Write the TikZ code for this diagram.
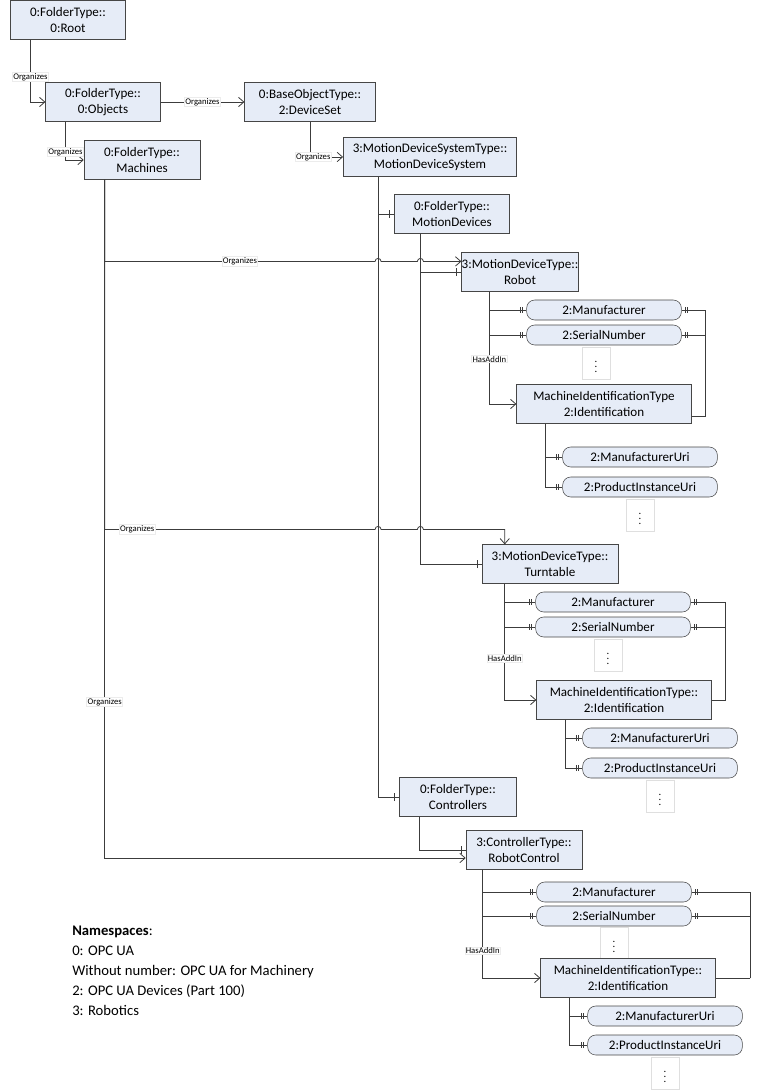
\documentclass[tikz,border=0pt]{standalone}
\usepackage{fontspec}
\setmainfont{Carlito}
\usepackage{tikz}
\usetikzlibrary{arrows.meta, decorations.markings}
\definecolor{boxfill}{RGB}{230,236,247}
\definecolor{boxline}{RGB}{70,70,70}
\definecolor{relline}{RGB}{60,60,60}

\tikzset{
  boxnode/.style={draw=boxline, fill=boxfill, inner sep=0pt, minimum height=29pt,
    align=center, font=\fontsize{9.8}{11.5}\selectfont},
  propnode/.style={draw=boxline, fill=boxfill, rounded corners=6pt, inner sep=0pt,
    minimum width=116pt, minimum height=15pt, font=\fontsize{9.8}{11}\selectfont},
  dotsbox/.style={draw=gray!25, fill=white, inner sep=0pt, minimum width=21pt, minimum height=24pt,
    font=\fontsize{8}{8}\selectfont},
  lbl/.style={fill=white, draw=gray!15, inner sep=0.6pt, font=\fontsize{6.5}{7}\selectfont},
  rel/.style={draw=relline, line width=0.6pt},
  orgarrow/.style={rel, -{Straight Barb[length=4pt,width=7pt]}},
  onebar/.style={rel, decoration={markings,
    mark=at position -3.5pt with {\draw[relline, line width=0.5pt] (0,-3pt) -- (0,3pt);}},
    postaction={decorate}},
  twobar/.style={rel, decoration={markings,
    mark=at position -3pt with {\draw[relline, line width=0.5pt] (0,-2.2pt) -- (0,2.2pt);},
    mark=at position -4.6pt with {\draw[relline, line width=0.5pt] (0,-2.2pt) -- (0,2.2pt);}},
    postaction={decorate}}
}

\begin{document}
\begin{tikzpicture}[x=0.75pt, y=-0.75pt]
    \useasboundingbox (0,0) rectangle (779,1091);
    % Ordner und Objekte
    \node[boxnode, minimum width=86pt] (root) at (68,20) {0:FolderType::\\0:Root};
    \node[boxnode, minimum width=86pt] (objects) at (103,102) {0:FolderType::\\0:Objects};
    \node[boxnode, minimum width=98pt] (deviceset) at (310,102) {0:BaseObjectType::\\2:DeviceSet};
    \node[boxnode, minimum width=87pt] (machines) at (142,160) {0:FolderType::\\Machines};
    \node[boxnode, minimum width=130pt] (mds) at (430,157) {3:MotionDeviceSystemType::\\MotionDeviceSystem};
    \node[boxnode, minimum width=86pt] (motiondev) at (452,214) {0:FolderType::\\MotionDevices};
    \node[boxnode, minimum width=87pt] (robot) at (520,272) {3:MotionDeviceType::\\Robot};
    \node[boxnode, minimum width=102pt] (turntable) at (550,564) {3:MotionDeviceType::\\Turntable};
    \node[boxnode, minimum width=88pt] (controllers) at (458,797) {0:FolderType::\\Controllers};
    \node[boxnode, minimum width=87pt] (robotctrl) at (524,850) {3:ControllerType::\\RobotControl};
    % Platzhalter
    \node[dotsbox] (dots1) at (596,363) {$\vdots$};
    \node[dotsbox] (dots1b) at (640,515) {$\vdots$};
    \node[dotsbox] (dots2) at (608,655) {$\vdots$};
    \node[dotsbox] (dots2b) at (660,796) {$\vdots$};
    \node[dotsbox] (dots3) at (614,943) {$\vdots$};
    \node[dotsbox] (dots3b) at (665,1073) {$\vdots$};
    % Eigenschaften
    \node[propnode] (manuf1) at (604,310) {2:Manufacturer};
    \node[propnode] (serial1) at (604,335) {2:SerialNumber};
    \node[boxnode, minimum width=131pt] (ident1) at (604,404) {MachineIdentificationType\\2:Identification};
    \node[propnode] (manuri1) at (640,457) {2:ManufacturerUri};
    \node[propnode] (prodinst1) at (640,487) {2:ProductInstanceUri};
    \node[propnode] (manuf2) at (613,602) {2:Manufacturer};
    \node[propnode] (serial2) at (613,627) {2:SerialNumber};
    \node[boxnode, minimum width=131pt] (ident2) at (624,700) {MachineIdentificationType::\\2:Identification};
    \node[propnode] (manuri2) at (660,738) {2:ManufacturerUri};
    \node[propnode] (prodinst2) at (660,768) {2:ProductInstanceUri};
    \node[propnode] (manuf3) at (614,892) {2:Manufacturer};
    \node[propnode] (serial3) at (614,916) {2:SerialNumber};
    \node[boxnode, minimum width=131pt] (ident3) at (628,978) {MachineIdentificationType::\\2:Identification};
    \node[propnode] (manuri3) at (665,1016) {2:ManufacturerUri};
    \node[propnode] (prodinst3) at (665,1045) {2:ProductInstanceUri};
    % Hilfspunkte
    \coordinate (mdsx) at ([xshift=26.25pt]mds.south west);
    \coordinate (mdvx) at ([xshift=19.5pt]motiondev.south west);
    \coordinate (mchx) at ([xshift=15.75pt]machines.south west);
    \coordinate (r1) at ([yshift=-6.75pt]robot.north west);
    \coordinate (t1) at ([xshift=17.25pt]turntable.north west);
    \coordinate (t1h) at ([yshift=11.25pt]t1);
    \coordinate (rbx) at ([xshift=21pt]robot.south west);
    \coordinate (tbx) at ([xshift=17.25pt]turntable.south west);
    \coordinate (rcx) at ([xshift=12.75pt]robotctrl.south west);
    \coordinate (i1x) at ([xshift=21.75pt]ident1.south west);
    \coordinate (i2x) at ([xshift=21.75pt]ident2.south west);
    \coordinate (i3x) at ([xshift=21.75pt]ident3.south west);
    \coordinate (rj1) at ([xshift=10.5pt, yshift=-9pt]ident1.east);
    \coordinate (rj2) at ([xshift=10.5pt]ident2.east);
    \coordinate (rj3) at ([xshift=26pt]ident3.east);
    % Organizes
    \draw[orgarrow] ([xshift=15pt]root.south west) |- node[lbl, pos=0.3]{Organizes} (objects);
    \draw[orgarrow] (objects) -- node[lbl]{Organizes} (deviceset);
    \draw[orgarrow] ([xshift=15pt]objects.south west) |- node[lbl, pos=0.4]{Organizes} (machines);
    \draw[orgarrow] (deviceset) |- node[lbl, pos=0.55]{Organizes} (mds);
    \draw[orgarrow] (mchx) |- node[lbl, pos=0.75]{Organizes} ([xshift=-2.25pt]mdsx |- r1)
        arc[start angle=180, end angle=0, radius=2.25pt] -- ([xshift=-2.25pt]mdvx |- r1)
        arc[start angle=180, end angle=0, radius=2.25pt] -- (r1);
    \draw[orgarrow] (mchx) |- node[lbl, pos=0.56]{Organizes} ([xshift=-2.25pt]mdsx |- t1h)
        arc[start angle=180, end angle=0, radius=2.25pt] -- ([xshift=-2.25pt]mdvx |- t1h)
        arc[start angle=180, end angle=0, radius=2.25pt] -- (t1h) -- (t1);
    \draw[orgarrow] (mchx) |- node[lbl, pos=0.385]{Organizes} ([yshift=-6pt]robotctrl.west);
    % Komponenten
    \draw[onebar] (mdsx) |- (motiondev);
    \draw[onebar] (mdsx) |- (controllers);
    \draw[onebar] (mdvx) |- (robot);
    \draw[onebar] (mdvx) |- (turntable);
    \draw[onebar] ([xshift=15pt]controllers.south west) |- (robotctrl);
    % Robot
    \draw[twobar] (rbx) |- (manuf1);
    \draw[twobar] (rbx) |- (serial1);
    \draw[orgarrow] (rbx) |- node[lbl, pos=0.3]{HasAddIn} (ident1);
    \draw[twobar] (rj1) |- (manuf1);
    \draw[twobar] (rj1) |- (serial1);
    \draw[rel] (rj1) -- (rj1 -| ident1.east);
    \draw[twobar] (i1x) |- (manuri1);
    \draw[twobar] (i1x) |- (prodinst1);
    % Turntable
    \draw[twobar] (tbx) |- (manuf2);
    \draw[twobar] (tbx) |- (serial2);
    \draw[orgarrow] (tbx) |- node[lbl, pos=0.32]{HasAddIn} (ident2);
    \draw[twobar] (rj2) |- (manuf2);
    \draw[twobar] (rj2) |- (serial2);
    \draw[rel] (rj2) -- (ident2.east);
    \draw[twobar] (i2x) |- (manuri2);
    \draw[twobar] (i2x) |- (prodinst2);
    % RobotControl
    \draw[twobar] (rcx) |- (manuf3);
    \draw[twobar] (rcx) |- (serial3);
    \draw[orgarrow] (rcx) |- node[lbl, pos=0.375]{HasAddIn} (ident3);
    \draw[twobar] (rj3) |- (manuf3);
    \draw[twobar] (rj3) |- (serial3);
    \draw[rel] (rj3) -- (ident3.east);
    \draw[twobar] (i3x) |- (manuri3);
    \draw[twobar] (i3x) |- (prodinst3);
    % Legende
    \node[anchor=north west, align=left, inner sep=0pt, font=\fontsize{11}{15}\selectfont] (legend) at (72,926)
        {\textbf{Namespaces}:\\0: OPC UA\\Without number: OPC UA for Machinery\\2: OPC UA Devices (Part 100)\\3: Robotics};
\end{tikzpicture}
\end{document}
